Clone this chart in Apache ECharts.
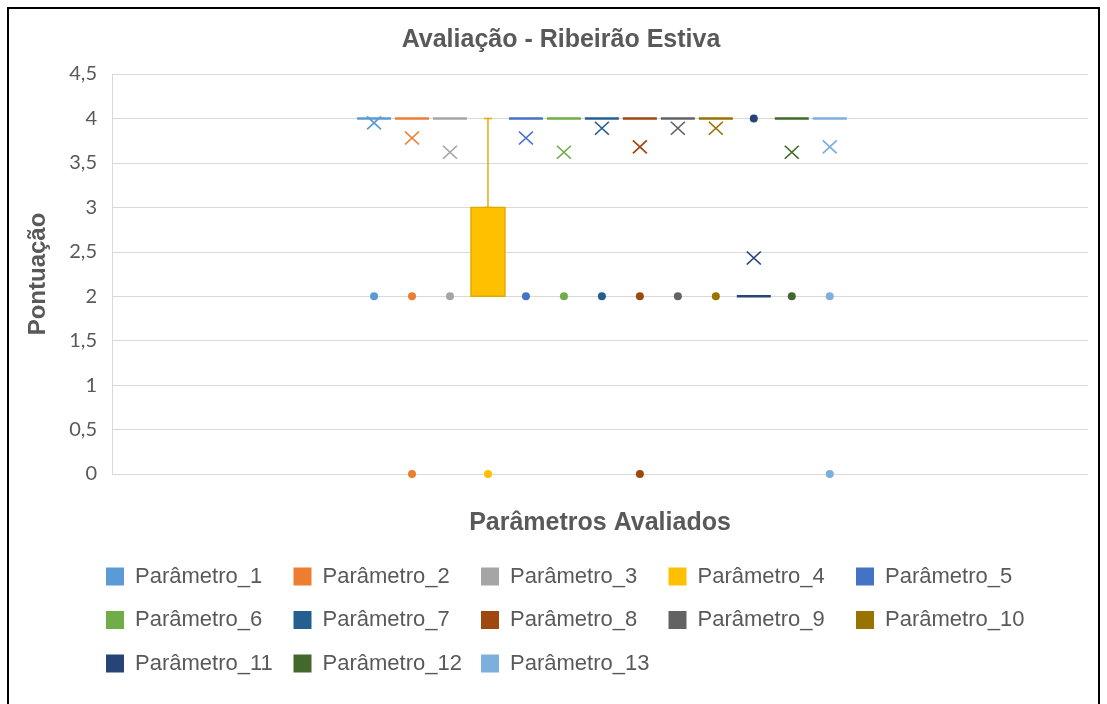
<!DOCTYPE html>
<html>
<head>
<meta charset="utf-8">
<script src="https://cdn.jsdelivr.net/npm/echarts@6/dist/echarts.min.js"></script>
<style>
  html, body { margin: 0; padding: 0; background: #ffffff; }
  #grafico { width: 1107px; height: 704px; }
</style>
</head>
<body>
<div id="grafico"></div>
<script>
// Parâmetros avaliados e cores de cada série
const parametros = ['Parâmetro_1', 'Parâmetro_2', 'Parâmetro_3', 'Parâmetro_4', 'Parâmetro_5',
  'Parâmetro_6', 'Parâmetro_7', 'Parâmetro_8', 'Parâmetro_9', 'Parâmetro_10',
  'Parâmetro_11', 'Parâmetro_12', 'Parâmetro_13'];
const cores = ['#5B9BD5', '#ED7D31', '#A5A5A5', '#FFC000', '#4472C4', '#70AD47', '#255E91',
  '#9E480E', '#636363', '#997300', '#264478', '#43682B', '#7CAFDD'];

// Estatísticas de cada caixa (pontuação)
const minimo   = [4, 4, 4, 2, 4, 4, 4, 4, 4, 4, 2, 4, 4];
const quartil1 = [4, 4, 4, 2, 4, 4, 4, 4, 4, 4, 2, 4, 4];
const mediana  = [4, 4, 4, 2, 4, 4, 4, 4, 4, 4, 2, 4, 4];
const quartil3 = [4, 4, 4, 3, 4, 4, 4, 4, 4, 4, 2, 4, 4];
const maximo   = [4, 4, 4, 4, 4, 4, 4, 4, 4, 4, 2, 4, 4];
const media    = [3.95, 3.78, 3.62, 2.38, 3.78, 3.62, 3.89, 3.68, 3.89, 3.89, 2.43, 3.62, 3.68];
const discrepantes = [[2], [2, 0], [2], [0], [2], [2], [2], [2, 0], [2], [2], [4], [2], [2, 0]];

// Eixo de pontuação
const eixoMin = 0, eixoMax = 4.5, eixoPasso = 0.5;

const CINZA = '#595959';
const FONTE = '"Liberation Sans", Arial, sans-serif';
const SIMBOLO_X = 'path://M0,0L10,10M10,0L0,10';

function escurecer(hex, f) {
  const n = parseInt(hex.slice(1), 16);
  const r = Math.round(((n >> 16) & 255) * f);
  const g = Math.round(((n >> 8) & 255) * f);
  const b = Math.round((n & 255) * f);
  return 'rgb(' + r + ',' + g + ',' + b + ')';
}

// Corpo das caixas (Q1 a Q3 com a mediana)
const corpos = parametros.map(function (p, i) {
  const plano = quartil1[i] === quartil3[i];
  return {
    name: p,
    value: [i + 1, quartil1[i], quartil1[i], mediana[i], quartil3[i], quartil3[i]],
    itemStyle: {
      color: cores[i],
      borderColor: plano ? cores[i] : escurecer(cores[i], 0.88),
      borderWidth: plano ? 2.6 : 1.4
    }
  };
});

// Bigodes com terminais curtos
const bigodes = [];
parametros.forEach(function (p, i) {
  const estilo = { color: 'transparent', borderColor: escurecer(cores[i], 0.88), borderWidth: 1.4 };
  if (maximo[i] > quartil3[i]) {
    bigodes.push({ name: p, value: [i + 1, quartil3[i], maximo[i], maximo[i], maximo[i], maximo[i]], itemStyle: estilo });
  }
  if (minimo[i] < quartil1[i]) {
    bigodes.push({ name: p, value: [i + 1, minimo[i], minimo[i], minimo[i], minimo[i], quartil1[i]], itemStyle: estilo });
  }
});

// Pontos discrepantes e médias (x) por parâmetro
const pontos = parametros.map(function (p, i) {
  const dados = discrepantes[i].map(function (v) { return [i + 1, v]; });
  dados.push({
    value: [i + 1, media[i]],
    symbol: SIMBOLO_X,
    symbolSize: [14, 13],
    itemStyle: { color: 'transparent', borderColor: cores[i], borderWidth: 1.6, opacity: 1 }
  });
  return {
    type: 'scatter',
    name: p,
    xAxisIndex: 0,
    yAxisIndex: 0,
    symbol: 'circle',
    symbolSize: 8,
    itemStyle: { color: cores[i], opacity: 1 },
    data: dados,
    z: 4,
    silent: true
  };
});

const grafico = echarts.init(document.getElementById('grafico'));

grafico.setOption({
  animation: false,
  backgroundColor: '#ffffff',
  graphic: [
    {
      type: 'rect',
      shape: { x: 8, y: 8, width: 1091, height: 720 },
      style: { fill: 'none', stroke: '#000000', lineWidth: 2 },
      silent: true
    },
    {
      type: 'text',
      x: 561, y: 40,
      style: {
        text: 'Avaliação - Ribeirão Estiva',
        fill: CINZA,
        font: 'bold 25px ' + FONTE,
        textAlign: 'center',
        textVerticalAlign: 'middle'
      },
      silent: true
    }
  ],
  grid: { left: 112, right: 19, top: 74, bottom: 230 },
  legend: {
    data: parametros,
    left: 101,
    top: 554,
    width: 960,
    icon: 'rect',
    itemWidth: 18,
    itemHeight: 18,
    itemGap: 8.5,
    selectedMode: false,
    textStyle: {
      color: CINZA,
      fontFamily: FONTE,
      fontSize: 22,
      width: 150,
      lineHeight: 35,
      padding: [0, 0, 0, 6]
    }
  },
  xAxis: [
    {
      type: 'value', min: -5.9, max: 19.8,
      name: 'Parâmetros Avaliados',
      nameLocation: 'middle',
      nameGap: 37,
      nameTextStyle: { color: CINZA, fontFamily: FONTE, fontSize: 25, fontWeight: 'bold' },
      axisLine: { show: false }, axisTick: { show: false },
      axisLabel: { show: false }, splitLine: { show: false }
    },
    {
      type: 'value', min: -5.9, max: 19.8, show: false,
      splitLine: { show: false }
    }
  ],
  yAxis: {
    type: 'value',
    min: eixoMin, max: eixoMax, interval: eixoPasso,
    name: 'Pontuação',
    nameLocation: 'middle',
    nameGap: 62,
    nameTextStyle: { color: CINZA, fontFamily: FONTE, fontSize: 24, fontWeight: 'bold' },
    axisLine: { show: true, onZero: false, lineStyle: { color: '#D9D9D9', width: 1 } },
    axisTick: { show: false },
    axisLabel: {
      color: CINZA, fontFamily: 'Lato, "Open Sans", sans-serif', fontSize: 20, margin: 15,
      formatter: function (v) { return String(v).replace('.', ','); }
    },
    splitLine: { lineStyle: { color: '#D9D9D9', width: 1 } }
  },
  series: [
    {
      type: 'boxplot',
      name: 'caixas',
      xAxisIndex: 0,
      boxWidth: [34, 34],
      data: corpos,
      z: 2,
      silent: true
    },
    {
      type: 'boxplot',
      name: 'bigodes',
      xAxisIndex: 1,
      boxWidth: [8, 8],
      data: bigodes,
      z: 2,
      silent: true
    }
  ].concat(pontos)
});
</script>
</body>
</html>
